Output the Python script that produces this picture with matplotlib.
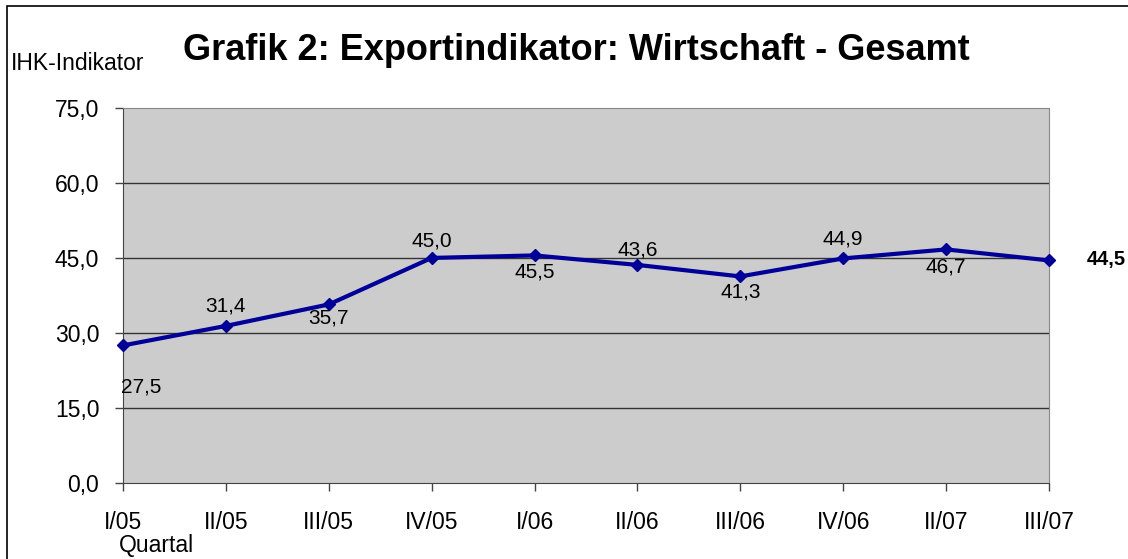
import matplotlib
matplotlib.use("Agg")
import matplotlib.pyplot as plt
from matplotlib.patches import Rectangle

plt.rcParams['font.family'] = ['Liberation Sans', 'DejaVu Sans']

quarters = ["I/05", "II/05", "III/05", "IV/05", "I/06", "II/06", "III/06", "IV/06", "II/07", "III/07"]
values = [27.5, 31.4, 35.7, 45.0, 45.5, 43.6, 41.3, 44.9, 46.7, 44.5]
# label offsets in points (positive = above)
label_offsets = [-30, 14, -10, 12, -12, 11, -11, 14, -13]

fig = plt.figure(figsize=(11.28, 5.59), dpi=100)
ax = fig.add_axes([0.109, 0.136, 0.821, 0.671])

# outer frame (cut off at right and bottom, like the original)
fig.patches.append(Rectangle((7 / 1128, -0.1), 1.2, (559 - 6) / 559 + 0.1,
                             transform=fig.transFigure, fill=False,
                             edgecolor="black", linewidth=1.2))

ax.set_facecolor("#cccccc")
x = list(range(len(quarters)))
ax.set_xlim(0, len(quarters) - 1)
ax.set_ylim(0, 75)
yticks = [0, 15, 30, 45, 60, 75]
ax.set_yticks(yticks)
ax.set_yticklabels([f"{v:.1f}".replace(".", ",") for v in yticks], fontsize=16.5)
ax.set_xticks(x)
ax.set_xticklabels(quarters, fontsize=16.5)
ax.tick_params(axis="both", direction="out", length=6, width=1, color="#444444")
ax.tick_params(axis="x", pad=14)
ax.tick_params(axis="y", pad=11)
for yv in [15, 30, 45, 60]:
    ax.axhline(yv, color="#333333", linewidth=1, zorder=1)

for side in ["top", "right"]:
    ax.spines[side].set_color("#888888")
for side in ["left", "bottom"]:
    ax.spines[side].set_color("#444444")

ax.plot(x, values, color="#000099", linewidth=3, marker="D", markersize=6,
        clip_on=False, zorder=3)

for xi, v, off in zip(x[:-1], values[:-1], label_offsets):
    dx = 13 if xi == 0 else 0
    ax.annotate(f"{v:.1f}".replace(".", ","), (xi, v), xytext=(dx, off),
                textcoords="offset points", ha="center", va="center", fontsize=15)
ax.annotate(f"{values[-1]:.1f}".replace(".", ","), (x[-1], values[-1]), xytext=(27.5, 1),
            textcoords="offset points", ha="left", va="center", fontsize=14.5,
            fontweight="bold", annotation_clip=False)

fig.text(0.511, 0.910, "Grafik 2: Exportindikator: Wirtschaft - Gesamt",
         ha="center", va="center", fontsize=26, fontweight="bold")
fig.text(0.010, 0.887, "IHK-Indikator", ha="left", va="center", fontsize=16.5)
fig.text(0.139, 0.025, "Quartal", ha="center", va="center", fontsize=16.5)

plt.savefig("out.png", dpi=100)
plt.close()
